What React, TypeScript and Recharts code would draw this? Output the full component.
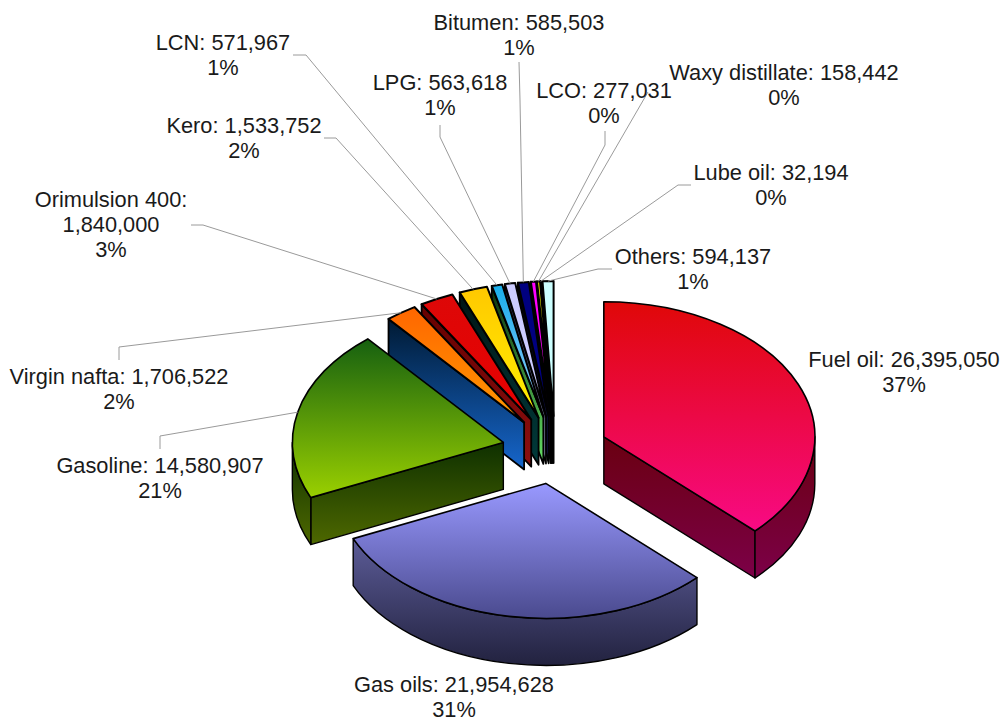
import React from 'react';
import { PieChart, Pie } from 'recharts';

// Products in clockwise order, starting from twelve o'clock
const products = [
  'Fuel oil', 'Gas oils', 'Gasoline', 'Virgin nafta', 'Orimulsion 400', 'Kero', 'LCN',
  'LPG', 'Bitumen', 'LCO', 'Waxy distillate', 'Lube oil', 'Others',
];
const volumes = [
  26395050, 21954628, 14580907, 1706522, 1840000, 1533752, 571967,
  563618, 585503, 277031, 158442, 32194, 594137,
];

// [top face start, top face end, side start, side end]
const palette: Record<string, string[]> = {
  'Fuel oil': ['#e00808', '#f80a84', '#6a0010', '#7c0048'],
  'Gas oils': ['#9999ff', '#4a4a8e', '#5c5c98', '#22223f'],
  'Gasoline': ['#166010', '#9ad000', '#0e3000', '#4e6800'],
  'Virgin nafta': ['#ff6600', '#ff9900', '#001a33', '#1666cc'],
  'Orimulsion 400': ['#dd0808', '#e80000', '#660000', '#8c1010'],
  'Kero': ['#ffc800', '#fff000', '#001414', '#003a3a'],
  'LCN': ['#18aeea', '#99ccff', '#0a300a', '#66e066'],
  'LPG': ['#ccccff', '#ccccff', '#1c1c44', '#8888a8'],
  'Bitumen': ['#000080', '#000080', '#000010', '#101048'],
  'LCO': ['#ff00ff', '#ff00ff', '#000000', '#220022'],
  'Waxy distillate': ['#ffff00', '#ffff00', '#000000', '#222200'],
  'Lube oil': ['#00ffff', '#00ffff', '#000000', '#002222'],
  'Others': ['#ccffff', '#ccffff', '#000000', '#000000'],
};

// Text centre, first baseline, and the leader's start and elbow
const labelLayout: Record<string, { x: number; y: number; path: number[][]; wrap?: boolean }> = {
  'Fuel oil': { x: 904, y: 367, path: [] },
  'Gas oils': { x: 454, y: 692, path: [] },
  'Gasoline': { x: 160, y: 473, path: [[160, 449], [160, 436]] },
  'Virgin nafta': { x: 119, y: 384, path: [[119, 360], [119, 347]] },
  'Orimulsion 400': { x: 111, y: 207, wrap: true, path: [[191, 225], [203, 225]] },
  'Kero': { x: 244, y: 133, path: [[324, 138], [336, 138]] },
  'LCN': { x: 223, y: 50, path: [[293, 55], [306, 55]] },
  'LPG': { x: 440, y: 90, path: [[440, 125], [440, 137]] },
  'Bitumen': { x: 519, y: 30, path: [[519, 62], [520, 100]] },
  'LCO': { x: 604, y: 98, path: [[605, 131], [605, 145]] },
  'Waxy distillate': { x: 784, y: 80, path: [[648, 92]] },
  'Lube oil': { x: 771, y: 180, path: [[691, 185], [678, 185]] },
  'Others': { x: 693, y: 264, path: [[612, 269], [598, 269]] },
};

const CENTER_X = 555;
const CENTER_Y = 450;
const RADIUS = 211;
const TILT = 0.64;
const DEPTH = 47;
const EXPLODE = 53;

// Reversed and laid out counter-clockwise so the front slices paint last
const sliceData = products
  .map((name, i) => ({ name, value: volumes[i] }))
  .reverse();

const rad = (deg: number) => (deg * Math.PI) / 180;

const Slice3D = (props: any) => {
  const { cx, cy, outerRadius, startAngle, endAngle, name, index } = props;
  const mid = (startAngle + endAngle) / 2;
  const ry = outerRadius * TILT;
  const ax = cx + EXPLODE * Math.cos(rad(mid));
  const ay = cy - EXPLODE * TILT * Math.sin(rad(mid));
  const at = (a: number) => [ax + outerRadius * Math.cos(rad(a)), ay - ry * Math.sin(rad(a))];
  const [topA, topB, sideA, sideB] = palette[name];
  const [sx, sy] = at(startAngle);
  const [ex, ey] = at(endAngle);
  const sweep = endAngle - startAngle;
  const large = sweep > 180 ? 1 : 0;
  // Narrow slices carry a heavier outline
  const outline = sweep < 15 ? 2 : 1.6;

  const sides: string[] = [];
  const ys: number[] = [];
  const radial = (a: number) => {
    const [px, py] = at(a);
    sides.push(`M${ax},${ay} L${px},${py} L${px},${py + DEPTH} L${ax},${ay + DEPTH} Z`);
    ys.push(ay, py);
  };
  if (endAngle > 90 && endAngle < 270) radial(endAngle);
  if (startAngle > 270 && startAngle < 450) radial(startAngle);

  // Rim is only visible on the near half of the ellipse
  const from = Math.max(startAngle, 180);
  const to = Math.min(endAngle, 360);
  if (to > from) {
    const [x1, y1] = at(from);
    const [x2, y2] = at(to);
    sides.push(
      `M${x1},${y1} A${outerRadius},${ry} 0 0 0 ${x2},${y2} L${x2},${y2 + DEPTH} ` +
        `A${outerRadius},${ry} 0 0 1 ${x1},${y1 + DEPTH} Z`,
    );
    ys.push(y1, y2);
    if (from < 270 && to > 270) ys.push(ay + ry);
  }
  const sideTop = ys.length ? Math.min(...ys) : ay;
  const sideBottom = (ys.length ? Math.max(...ys) : ay) + DEPTH;

  return (
    <g>
      <defs>
        <linearGradient id={`top-${index}`} x1="0" y1="0" x2="0" y2="1">
          <stop offset="0%" stopColor={topA} />
          <stop offset="100%" stopColor={topB} />
        </linearGradient>
        <linearGradient id={`side-${index}`} gradientUnits="userSpaceOnUse" x1="0" y1={sideTop} x2="0" y2={sideBottom}>
          <stop offset="0%" stopColor={sideA} />
          <stop offset="100%" stopColor={sideB} />
        </linearGradient>
      </defs>
      {sides.map((d, i) => (
        <path key={i} d={d} fill={`url(#side-${index})`} stroke="#000" strokeWidth={outline - 0.2} strokeLinejoin="round" />
      ))}
      <path
        d={`M${ax},${ay} L${sx},${sy} A${outerRadius},${ry} 0 ${large} 0 ${ex},${ey} Z`}
        fill={`url(#top-${index})`}
        stroke="#000"
        strokeWidth={outline}
        strokeLinejoin="round"
      />
    </g>
  );
};

const SliceLabel = (props: any) => {
  const { cx, cy, outerRadius, midAngle, name, value, percent } = props;
  const spot = labelLayout[name];
  const ax = cx + EXPLODE * Math.cos(rad(midAngle));
  const ay = cy - EXPLODE * TILT * Math.sin(rad(midAngle));
  const tipX = ax + outerRadius * Math.cos(rad(midAngle));
  const tipY = ay - outerRadius * TILT * Math.sin(rad(midAngle));
  const amount = value.toLocaleString('en-US');
  const lines = spot.wrap ? [`${name}:`, amount] : [`${name}: ${amount}`];
  lines.push(`${Math.round(percent * 100)}%`);

  return (
    <g>
      {spot.path.length > 0 && (
        <polyline
          points={[...spot.path, [tipX, tipY]].map((p) => p.join(',')).join(' ')}
          fill="none"
          stroke="#9a9a9a"
          strokeWidth={1}
        />
      )}
      <text x={spot.x} textAnchor="middle" fontFamily="Liberation Sans, Arial, sans-serif" fontSize={21.8} fill="#1a1a1a">
        {lines.map((line, i) => (
          <tspan key={i} x={spot.x} y={spot.y + i * 25}>
            {line}
          </tspan>
        ))}
      </text>
    </g>
  );
};

export default function App() {
  return (
    <div style={{ position: 'absolute', left: 0, top: 0, width: 1003, height: 722, background: '#fff' }}>
      <PieChart width={1003} height={722} margin={{ top: 0, right: 0, bottom: 0, left: 0 }}>
        <Pie
          data={sliceData}
          dataKey="value"
          nameKey="name"
          cx={CENTER_X}
          cy={CENTER_Y}
          outerRadius={RADIUS}
          startAngle={90}
          endAngle={450}
          stroke="none"
          shape={Slice3D}
          activeShape={Slice3D}
          inactiveShape={Slice3D}
          label={SliceLabel}
          labelLine={false}
          isAnimationActive={false}
        />
      </PieChart>
    </div>
  );
}
